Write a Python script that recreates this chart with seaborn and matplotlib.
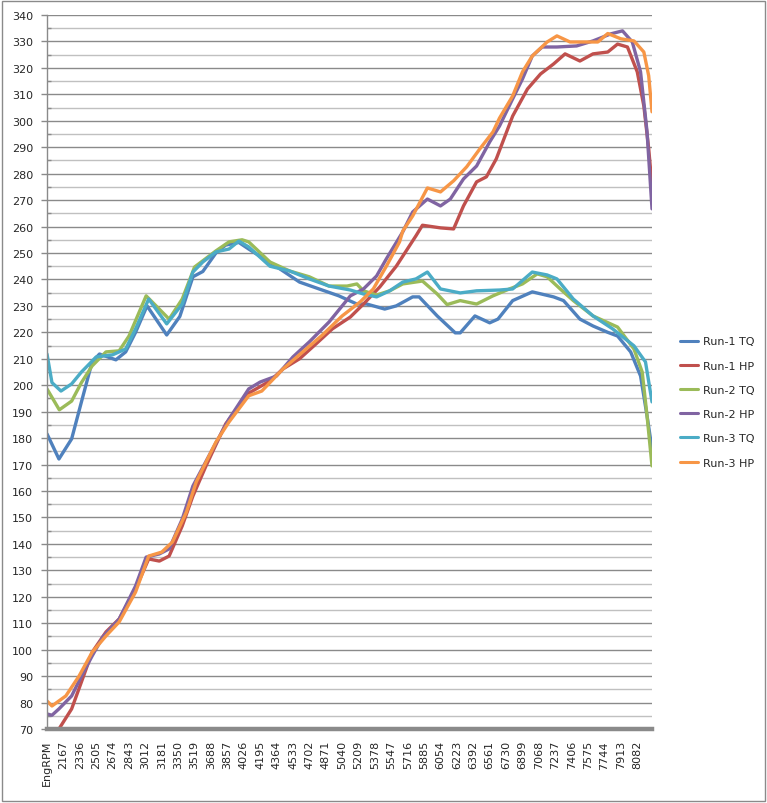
import numpy as np
import pandas as pd
import matplotlib
matplotlib.use("Agg")
import matplotlib.pyplot as plt
from matplotlib.ticker import MultipleLocator, FixedLocator
from matplotlib.patches import Rectangle
import seaborn as sns

# ---------------- data ----------------
tick_labels = ["EngRPM", "2167", "2336", "2505", "2674", "2843", "3012", "3181", "3350",
               "3519", "3688", "3857", "4026", "4195", "4364", "4533", "4702", "4871",
               "5040", "5209", "5378", "5547", "5716", "5885", "6054", "6223", "6392",
               "6561", "6730", "6899", "7068", "7237", "7406", "7575", "7744", "7913", "8082"]

series_names = ["Run-1 TQ", "Run-1 HP", "Run-2 TQ", "Run-2 HP", "Run-3 TQ", "Run-3 HP"]
series_colors = ["#4F81BD", "#C0504D", "#9BBB59", "#8064A2", "#4BACC6", "#F79646"]

run1_tq_rpm = [1998, 2121, 2252, 2353, 2463, 2539, 2708, 2809, 2911, 3029, 3232, 3367, 3502,
               3604, 3739, 3840, 3975, 4077, 4398, 4601, 4803, 5006, 5192, 5294, 5479, 5598,
               5767, 5834, 6020, 6206, 6257, 6409, 6561, 6646, 6798, 7000, 7220, 7322, 7491,
               7626, 7778, 7879, 8014, 8116, 8183, 8234]
run1_tq = [181.6, 172.1, 179.7, 193.7, 208.8, 211.8, 209.6, 212.6, 220.0, 230.0, 219.0, 226.0,
           241.0, 243.0, 250.0, 253.0, 254.0, 251.5, 244.0, 239.0, 236.4, 233.8, 230.7, 230.7,
           228.8, 230.0, 233.4, 233.4, 226.2, 219.8, 219.8, 226.2, 223.6, 225.0, 232.0, 235.3,
           233.4, 232.0, 225.0, 222.4, 220.0, 218.6, 212.6, 203.5, 188.4, 175.9]

run1_hp_rpm = [1998, 2121, 2252, 2353, 2463, 2606, 2742, 2911, 3046, 3156, 3257, 3392, 3502,
               3637, 3840, 4077, 4296, 4432, 4601, 4770, 4939, 5125, 5260, 5429, 5598, 5801,
               5868, 6054, 6189, 6291, 6426, 6527, 6629, 6798, 6950, 7085, 7220, 7338, 7491,
               7626, 7778, 7879, 7981, 8082, 8150, 8200, 8234]
run1_hp = [63.0, 70.0, 77.6, 87.8, 99.0, 106.7, 111.6, 123.0, 134.3, 133.5, 135.4, 146.8, 158.1,
           169.5, 185.4, 197.0, 201.6, 206.2, 210.0, 215.6, 221.3, 225.8, 230.7, 237.2, 245.0,
           256.5, 260.5, 259.5, 259.1, 267.8, 276.9, 278.8, 285.6, 301.8, 312.0, 317.7, 321.5,
           325.3, 322.6, 325.3, 326.0, 329.0, 327.9, 318.5, 305.6, 289.4, 275.4]

run2_tq_rpm = [1998, 2125, 2252, 2353, 2463, 2606, 2742, 2843, 3020, 3257, 3392, 3519, 3739,
               3874, 4009, 4077, 4296, 4499, 4702, 4905, 5091, 5192, 5260, 5395, 5530, 5665,
               5868, 6020, 6122, 6257, 6426, 6595, 6764, 6899, 7051, 7153, 7288, 7423, 7626,
               7879, 8048, 8133, 8183, 8234]
run2_tq = [198.6, 190.7, 194.0, 201.0, 207.3, 212.6, 213.0, 218.6, 233.8, 225.0, 232.6, 244.7,
           250.8, 254.2, 255.0, 254.2, 246.6, 243.2, 241.0, 237.5, 237.5, 238.3, 235.7, 234.1,
           235.7, 238.3, 239.4, 234.5, 230.5, 232.0, 230.7, 233.8, 236.4, 238.3, 242.1, 241.0,
           236.4, 232.0, 226.2, 222.0, 213.7, 205.0, 188.4, 169.5]

run2_hp_rpm = [1998, 2049, 2121, 2252, 2353, 2463, 2573, 2742, 2911, 3020, 3156, 3257, 3392,
               3502, 3705, 3874, 4077, 4195, 4364, 4533, 4702, 4905, 5125, 5260, 5395, 5496,
               5665, 5767, 5919, 6054, 6155, 6291, 6426, 6561, 6662, 6798, 6899, 7000, 7102,
               7254, 7457, 7626, 7812, 7930, 8031, 8116, 8183, 8234]
run2_hp = [75.7, 75.2, 77.6, 82.5, 90.0, 97.6, 104.8, 111.6, 124.1, 135.0, 136.2, 138.1, 149.4,
           161.9, 175.9, 187.2, 198.6, 201.2, 203.5, 210.7, 216.4, 223.9, 233.8, 236.4, 241.3,
           247.8, 258.0, 265.5, 270.4, 267.8, 270.4, 278.0, 282.9, 292.0, 298.0, 308.3, 315.8,
           324.5, 327.9, 327.9, 328.3, 330.2, 332.9, 334.0, 329.8, 318.5, 295.8, 266.7]

run3_tq_rpm = [1998, 2049, 2142, 2252, 2353, 2505, 2674, 2809, 2911, 3046, 3232, 3392, 3502,
               3604, 3739, 3874, 3975, 4077, 4296, 4499, 4702, 4905, 5125, 5260, 5395, 5530,
               5665, 5801, 5919, 6054, 6257, 6426, 6662, 6798, 7000, 7153, 7254, 7423, 7626,
               7829, 8048, 8167, 8234]
run3_tq = [211.8, 201.0, 197.8, 200.5, 205.0, 210.7, 211.5, 213.7, 221.3, 232.6, 223.2, 230.7,
           242.8, 246.6, 250.4, 251.5, 254.5, 252.3, 245.0, 243.2, 240.2, 237.5, 236.0, 234.5,
           233.4, 235.7, 239.0, 240.2, 242.8, 236.4, 234.9, 235.7, 236.0, 236.4, 242.8, 241.7,
           240.2, 232.6, 226.2, 221.3, 214.9, 208.8, 193.7]

run3_hp_rpm = [1998, 2049, 2192, 2328, 2463, 2606, 2742, 2911, 3046, 3181, 3291, 3435, 3536,
               3739, 3874, 4077, 4212, 4432, 4634, 4837, 5040, 5226, 5361, 5496, 5632, 5665,
               5767, 5919, 6054, 6189, 6324, 6460, 6595, 6662, 6798, 6899, 7000, 7153, 7254,
               7389, 7491, 7676, 7778, 7913, 8048, 8150, 8200, 8234]
run3_hp = [80.6, 78.7, 82.5, 90.0, 99.0, 105.2, 110.5, 121.8, 135.4, 136.9, 140.7, 152.0, 163.4,
           178.5, 186.1, 196.0, 197.8, 206.2, 212.6, 219.0, 226.2, 231.5, 236.4, 245.0, 254.2,
           258.3, 264.0, 274.6, 273.1, 277.3, 282.6, 289.4, 295.8, 301.0, 309.4, 318.5, 324.5,
           329.8, 332.1, 329.8, 329.8, 329.8, 333.0, 331.0, 330.2, 326.0, 317.0, 303.4]

series_rpm = [run1_tq_rpm, run1_hp_rpm, run2_tq_rpm, run2_hp_rpm, run3_tq_rpm, run3_hp_rpm]
series_vals = [run1_tq, run1_hp, run2_tq, run2_hp, run3_tq, run3_hp]

frames = []
for name, xs, ys in zip(series_names, series_rpm, series_vals):
    frames.append(pd.DataFrame({"rpm": xs, "value": ys, "series": name}))
df = pd.concat(frames, ignore_index=True)

# ---------------- figure ----------------
sns.set_style("white")
plt.rcParams["font.family"] = ["DejaVu Sans"]
plt.rcParams["lines.solid_joinstyle"] = "round"
plt.rcParams["lines.solid_capstyle"] = "round"

W, H = 767, 804
fig = plt.figure(figsize=(W / 100, H / 100), dpi=100)
ax = fig.add_axes([47 / W, (H - 730) / H, (652 - 47) / W, (730 - 16) / H])

sns.lineplot(data=df, x="rpm", y="value", hue="series", hue_order=series_names,
             palette=dict(zip(series_names, series_colors)), estimator=None, sort=False,
             linewidth=2.4, ax=ax, legend=True)

# axes limits
tick_pos = [2 * int(tick_labels[1]) - int(tick_labels[2])] + [int(t) for t in tick_labels[1:]]
ax.set_xlim(min(run1_tq_rpm), max(run1_tq_rpm))
ax.set_ylim(70, 340)

# y ticks + grid
ax.yaxis.set_major_locator(MultipleLocator(10))
ax.yaxis.set_minor_locator(MultipleLocator(5))
ax.grid(which="major", axis="y", color="#8a8a8a", linewidth=1.0)
ax.grid(which="minor", axis="y", color="#c0c0c0", linewidth=1.0)
ax.grid(False, axis="x")
ax.set_axisbelow(True)
ax.tick_params(axis="y", which="major", direction="out", length=4, width=1,
               color="#8a8a8a", labelsize=8, pad=6, left=True)
ax.tick_params(axis="y", which="minor", direction="in", length=3, width=1,
               color="#8a8a8a", left=True)

# x ticks
ax.xaxis.set_major_locator(FixedLocator(tick_pos))
ax.set_xticklabels(tick_labels, rotation=90, fontsize=8)
ax.tick_params(axis="x", which="major", length=0, pad=8)

ax.set_xlabel("")
ax.set_ylabel("")

for s in ["top", "right"]:
    ax.spines[s].set_visible(False)
ax.spines["left"].set_color("#8a8a8a")
ax.spines["left"].set_linewidth(1.0)
ax.spines["bottom"].set_color("#8a8a8a")
ax.spines["bottom"].set_linewidth(3.2)
ax.spines["bottom"].set_zorder(5)

# legend
handles, labels = ax.get_legend_handles_labels()
ax.get_legend().remove()
for h in handles:
    h.set_linewidth(2.2)
fig.legend(handles, labels, loc="upper left", bbox_to_anchor=(676 / W, 1 - 333 / H),
           frameon=False, fontsize=8, handlelength=1.6, handletextpad=0.45,
           labelspacing=1.28, borderaxespad=0)

# chart-area border
fig.patches.append(Rectangle((2 / W, 2 / H), (W - 4) / W, (H - 4) / H,
                             transform=fig.transFigure, fill=False,
                             edgecolor="#8a8a8a", linewidth=1.0))

fig.savefig("out.png", dpi=100)
